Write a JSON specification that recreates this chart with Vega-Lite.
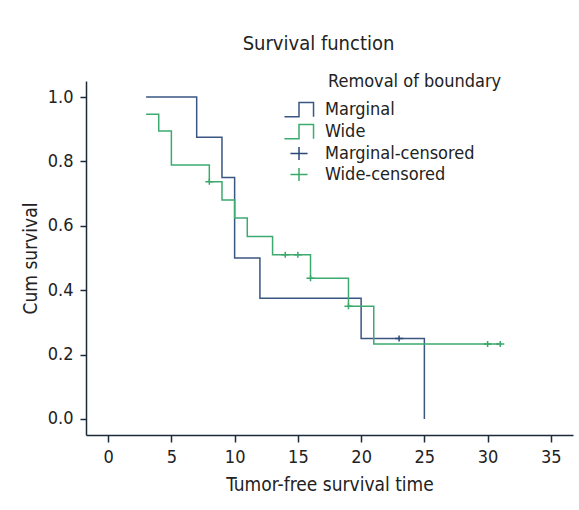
{
  "$schema": "https://vega.github.io/schema/vega-lite/v6.json",
  "width": 487,
  "height": 354,
  "autosize": {"type": "none"},
  "padding": {"left": 86, "top": 81, "right": 6, "bottom": 75},
  "background": "white",
  "config": {
    "font": "DejaVu Sans Condensed, Roboto, sans-serif",
    "view": {"stroke": null},
    "axis": {
      "domainColor": "#1c2a38",
      "domainWidth": 1.5,
      "tickColor": "#1c2a38",
      "tickWidth": 1.5,
      "tickSize": 6,
      "labelFontSize": 18,
      "labelColor": "#222222",
      "titleFontSize": 19,
      "titleFontWeight": "normal",
      "titleColor": "#222222",
      "grid": false
    }
  },
  "title": {
    "text": "Survival function",
    "fontSize": 20,
    "fontWeight": "normal",
    "color": "#222222",
    "dx": -11,
    "offset": 19
  },
  "datasets": {
    "curves": [
      {"key": "Marginal", "t": 3, "s": 1.0},
      {"key": "Marginal", "t": 7, "s": 0.875},
      {"key": "Marginal", "t": 9, "s": 0.75},
      {"key": "Marginal", "t": 10, "s": 0.5},
      {"key": "Marginal", "t": 12, "s": 0.375},
      {"key": "Marginal", "t": 20, "s": 0.25},
      {"key": "Marginal", "t": 25, "s": 0.0},
      {"key": "Wide", "t": 3, "s": 0.947},
      {"key": "Wide", "t": 4, "s": 0.895},
      {"key": "Wide", "t": 5, "s": 0.789},
      {"key": "Wide", "t": 8, "s": 0.737},
      {"key": "Wide", "t": 9, "s": 0.680},
      {"key": "Wide", "t": 10, "s": 0.624},
      {"key": "Wide", "t": 11, "s": 0.567},
      {"key": "Wide", "t": 13, "s": 0.510},
      {"key": "Wide", "t": 16, "s": 0.437},
      {"key": "Wide", "t": 19, "s": 0.350},
      {"key": "Wide", "t": 21, "s": 0.233},
      {"key": "Wide", "t": 31, "s": 0.233}
    ],
    "cens": [
      {"key": "Marginal-censored", "t": 23, "s": 0.25},
      {"key": "Wide-censored", "t": 8, "s": 0.737},
      {"key": "Wide-censored", "t": 14, "s": 0.510},
      {"key": "Wide-censored", "t": 15, "s": 0.510},
      {"key": "Wide-censored", "t": 16, "s": 0.437},
      {"key": "Wide-censored", "t": 19, "s": 0.350},
      {"key": "Wide-censored", "t": 30, "s": 0.233},
      {"key": "Wide-censored", "t": 31, "s": 0.233}
    ]
  },
  "encoding": {
    "x": {
      "field": "t",
      "type": "quantitative",
      "scale": {"domain": [-1.75, 36.75], "nice": false, "zero": false},
      "axis": {"values": [0, 5, 10, 15, 20, 25, 30, 35], "tickSize": 7, "labelPadding": 6, "titlePadding": 9},
      "title": "Tumor-free survival time"
    },
    "y": {
      "field": "s",
      "type": "quantitative",
      "scale": {"domain": [-0.05, 1.05], "nice": false, "zero": false},
      "axis": {"values": [0, 0.2, 0.4, 0.6, 0.8, 1.0], "format": ".1f", "labelPadding": 7, "titlePadding": 7},
      "title": "Cum survival"
    }
  },
  "layer": [
    {
      "data": {"name": "curves"},
      "mark": {"type": "line", "interpolate": "step-after", "strokeWidth": 1.5},
      "encoding": {
        "color": {
          "field": "key",
          "type": "nominal",
          "scale": {
            "domain": ["Marginal", "Wide", "Marginal-censored", "Wide-censored"],
            "range": ["#3a5683", "#3daa6f", "#2b4877", "#3aa868"]
          },
          "legend": {
            "title": "Removal of boundary",
            "orient": "none",
            "legendX": 202.5,
            "legendY": -8,
            "symbolSize": 361,
            "symbolStrokeWidth": 1.5,
            "symbolOpacity": 1,
            "labelOffset": 15.5,
            "titlePadding": 8,
            "rowPadding": 1,
            "padding": 0,
            "titleLimit": 400,
            "labelLimit": 400,
            "labelFontSize": 18,
            "titleFontSize": 18,
            "titleFontWeight": "normal",
            "labelColor": "#222222",
            "titleColor": "#222222",
            "encode": {"title": {"update": {"dx": {"value": 39.5}}}}
          }
        }
      }
    },
    {
      "data": {"name": "cens"},
      "mark": {"type": "point", "filled": false, "strokeWidth": 1.5, "size": 80, "opacity": 1},
      "encoding": {
        "color": {"field": "key", "type": "nominal"},
        "shape": {
          "field": "key",
          "type": "nominal",
          "scale": {
            "domain": ["Marginal", "Wide", "Marginal-censored", "Wide-censored"],
            "range": [
              "M-1.53,0.75H0V-0.75H1.53V0.75",
              "M-1.53,0.75H0V-0.75H1.53V0.75",
              "M-0.9,0H0.9M0,-0.68V0.68",
              "M-0.9,0H0.9M0,-0.68V0.68"
            ]
          },
          "legend": {
            "title": "Removal of boundary",
            "orient": "none",
            "legendX": 202.5,
            "legendY": -8,
            "symbolSize": 361,
            "symbolStrokeWidth": 1.5,
            "symbolOpacity": 1,
            "labelOffset": 15.5,
            "titlePadding": 8,
            "rowPadding": 1,
            "padding": 0,
            "titleLimit": 400,
            "labelLimit": 400,
            "labelFontSize": 18,
            "titleFontSize": 18,
            "titleFontWeight": "normal",
            "labelColor": "#222222",
            "titleColor": "#222222",
            "encode": {"title": {"update": {"dx": {"value": 39.5}}}}
          }
        }
      }
    }
  ]
}
